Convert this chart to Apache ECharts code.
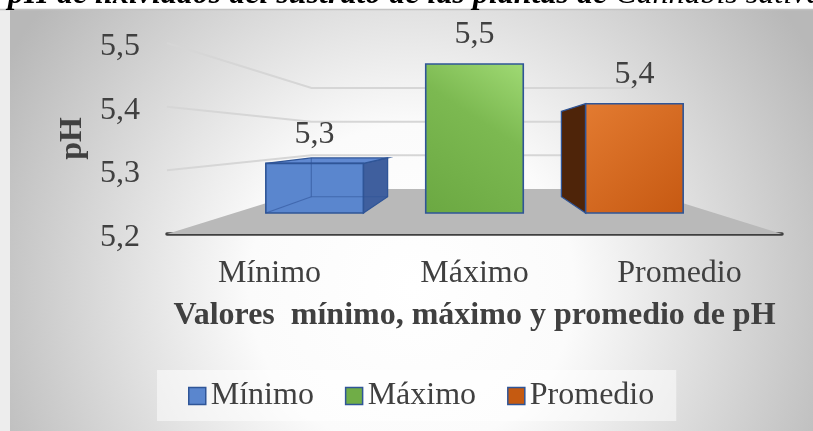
<!DOCTYPE html>
<html><head><meta charset="utf-8">
<script src="https://cdn.jsdelivr.net/npm/echarts@6/dist/echarts.min.js"></script>
<style>html,body{margin:0;padding:0;background:#fff}#c{width:813px;height:431px}</style>
</head><body><div id="c"></div>
<script>
const categories = ['Mínimo', 'Máximo', 'Promedio'];
const phValues = [5.3, 5.5, 5.42];
const yTicks = [5.2, 5.3, 5.4, 5.5];
const legendNames = ['Mínimo', 'Máximo', 'Promedio'];
const titleMain = 'pH de lixiviados del sustrato de las plantas de ';
const titleSpecies = 'Cannabis sativa';
const xAxisTitle = 'Valores  mínimo, máximo y promedio de pH';
const yAxisTitle = 'pH';

const Y_MIN = 5.2, Y_MAX = 5.5, Y_STEP = 0.1;
const S_NEAR = 0.78, S_FAR = 0.61, S_BACK = 0.53, BAR_RATIO = 0.61;
const FONT = '"Liberation Serif", "Times New Roman", serif';
const FS = 32;
const TXT = '#404040';
const EDGE = '#2F5597';
const LG = echarts.graphic.LinearGradient;

const barStyles = [
  { color: '#5A86CE', front: '#5A86CE', top: '#6089D1', side: '#3F5F9E', see: true },
  { color: '#70AD47', front: new LG(0, 1, 1, 0, [{offset: 0, color: '#6BA842'}, {offset: 0.6, color: '#7CB951'}, {offset: 1, color: '#A0DA74'}]), top: '#8CC862', side: '#4B7A2C' },
  { color: '#C55A11', front: new LG(0, 0, 1, 1, [{offset: 0, color: '#E37B31'}, {offset: 1, color: '#C65912'}]), top: '#D46A20', side: '#4E2409' }
];

const fmt = v => Number(v).toFixed(1).replace('.', ',');

function projector(cs) {
  const vx = cs.x + cs.width / 2, vy = cs.y + cs.height / 2;
  return { vx, vy, P: (X, Y, s) => [vx + (X - vx) * s, vy + (Y - vy) * s] };
}

function renderWall(params, api) {
  const cs = params.coordSys;
  const { P } = projector(cs);
  const v = api.value(1);
  const Y = api.coord([0, v])[1];
  const XL = cs.x, XR = cs.x + cs.width;
  if (v === Y_MIN) {
    return { type: 'polygon', shape: { points: [P(XL, Y, 1), P(XL, Y, S_BACK), P(XR, Y, S_BACK), P(XR, Y, 1)] },
      style: { fill: '#B9B9B9' } };
  }
  return { type: 'polyline', shape: { points: [P(XL, Y, 1), P(XL, Y, S_BACK), P(XR, Y, S_BACK)] },
    style: { fill: null, stroke: '#D6D6D6', lineWidth: 2 } };
}

function renderBar(params, api) {
  const cs = params.coordSys;
  const { vx, vy, P } = projector(cs);
  const idx = api.value(0), v = api.value(1);
  const top = api.coord([idx, v]);
  const base = api.coord([idx, Y_MIN]);
  const W = api.size([1, 0])[0];
  const hw = W * BAR_RATIO / 2;
  const XL = top[0] - hw, XR = top[0] + hw, YT = top[1], YB = base[1];
  const n = { tl: P(XL, YT, S_NEAR), tr: P(XR, YT, S_NEAR), br: P(XR, YB, S_NEAR), bl: P(XL, YB, S_NEAR) };
  const f = { tl: P(XL, YT, S_FAR), tr: P(XR, YT, S_FAR), br: P(XR, YB, S_FAR), bl: P(XL, YB, S_FAR) };
  const st = barStyles[idx];
  const ch = [];
  if (XR < vx) ch.push({ type: 'polygon', shape: { points: [n.tr, f.tr, f.br, n.br] }, style: { fill: st.side, stroke: EDGE, lineWidth: 1.3 } });
  if (XL > vx) ch.push({ type: 'polygon', shape: { points: [f.tl, n.tl, n.bl, f.bl] }, style: { fill: st.side, stroke: EDGE, lineWidth: 1.3 } });
  if (YT > vy) ch.push({ type: 'polygon', shape: { points: [n.tl, n.tr, f.tr, f.tl] }, style: { fill: st.top, stroke: EDGE, lineWidth: 1.3 } });
  ch.push({ type: 'polygon', shape: { points: [n.tl, n.tr, n.br, n.bl] }, style: { fill: st.front, stroke: EDGE, lineWidth: 1.6 } });
  if (st.see) {
    const hid = { stroke: 'rgba(45,80,150,0.55)', lineWidth: 1.2, fill: null };
    ch.push({ type: 'polyline', shape: { points: [f.tl, f.bl, f.br] }, style: hid });
    ch.push({ type: 'line', shape: { x1: n.bl[0], y1: n.bl[1], x2: f.bl[0], y2: f.bl[1] }, style: hid });
  }
  ch.push({ type: 'text', x: (n.tl[0] + n.tr[0]) / 2, y: n.tl[1] - 29,
    style: { text: fmt(v), fontSize: FS, fontFamily: FONT, fill: TXT, align: 'center', verticalAlign: 'middle' } });
  return { type: 'group', children: ch };
}

const chart = echarts.init(document.getElementById('c'), null, { renderer: 'canvas' });

const series = [{
  type: 'custom', name: '_walls', silent: true, clip: false, z: 1,
  renderItem: renderWall, data: yTicks.map(t => [0, t]), encode: { x: 0, y: 1 }
}];
categories.forEach((c, i) => {
  series.push({
    type: 'custom', name: legendNames[i], silent: true, clip: false, z: 3,
    itemStyle: { color: barStyles[i].color },
    renderItem: renderBar, data: [[i, phValues[i]]], encode: { x: 0, y: 1 }
  });
});

chart.setOption({
  backgroundColor: '#ffffff',
  animation: false,
  graphic: [
    { type: 'rect', z: -20, silent: true, shape: { x: 10, y: 9, width: 803, height: 422 },
      style: { fill: new echarts.graphic.RadialGradient(0.5, 0.66, 1.1, [
        { offset: 0, color: '#ffffff' }, { offset: 0.35, color: '#fbfbfb' }, { offset: 1, color: '#b8b8b8' }]) } },
    { type: 'rect', z: -19, silent: true, shape: { x: 0, y: 9, width: 10, height: 422 }, style: { fill: '#ededed' } },
    { type: 'line', z: -18, silent: true, shape: { x1: 0, y1: 9.5, x2: 813, y2: 9.5 }, style: { stroke: '#c4c4c4', lineWidth: 1.5 } },
    { type: 'text', z: 20, silent: true, x: 8, y: -5,
      style: { text: '{b|' + titleMain + '}{n|' + titleSpecies + '}', align: 'left', verticalAlign: 'middle',
        rich: {
          b: { fontSize: 32, fontFamily: FONT, fontWeight: 'bold', fontStyle: 'italic', fill: '#000' },
          n: { fontSize: 32, fontFamily: FONT, fontWeight: 'normal', fontStyle: 'italic', fill: '#000' }
        } } }
  ],
  grid: { left: 167, right: 31, top: 43, bottom: 197, containLabel: false },
  legend: {
    data: legendNames, left: 157, top: 370, padding: [10, 22, 9, 31], itemGap: 31,
    itemWidth: 17, itemHeight: 17, icon: 'rect', selectedMode: false,
    backgroundColor: 'rgba(255,255,255,0.5)',
    itemStyle: { borderColor: EDGE, borderWidth: 1.5 },
    textStyle: { fontSize: FS, fontFamily: FONT, color: TXT }
  },
  xAxis: {
    type: 'category', data: categories, boundaryGap: true,
    axisLine: { show: true, lineStyle: { color: '#3f3f3f', width: 3.5 } },
    axisTick: { show: false }, splitLine: { show: false },
    axisLabel: { margin: 24, fontSize: FS, fontFamily: FONT, color: TXT },
    name: xAxisTitle, nameLocation: 'middle', nameGap: 66,
    nameTextStyle: { fontSize: FS, fontFamily: FONT, fontWeight: 'bold', color: TXT }
  },
  yAxis: {
    type: 'value', min: Y_MIN, max: Y_MAX, interval: Y_STEP,
    axisLine: { show: false }, axisTick: { show: false }, splitLine: { show: false },
    axisLabel: { margin: 27, fontSize: FS, fontFamily: FONT, color: TXT, formatter: fmt, verticalAlign: 'top', lineHeight: 7 },
    name: yAxisTitle, nameLocation: 'middle', nameGap: 66, nameRotate: 90,
    nameTextStyle: { fontSize: FS, fontFamily: FONT, fontWeight: 'bold', color: TXT }
  },
  series
});
</script></body></html>
